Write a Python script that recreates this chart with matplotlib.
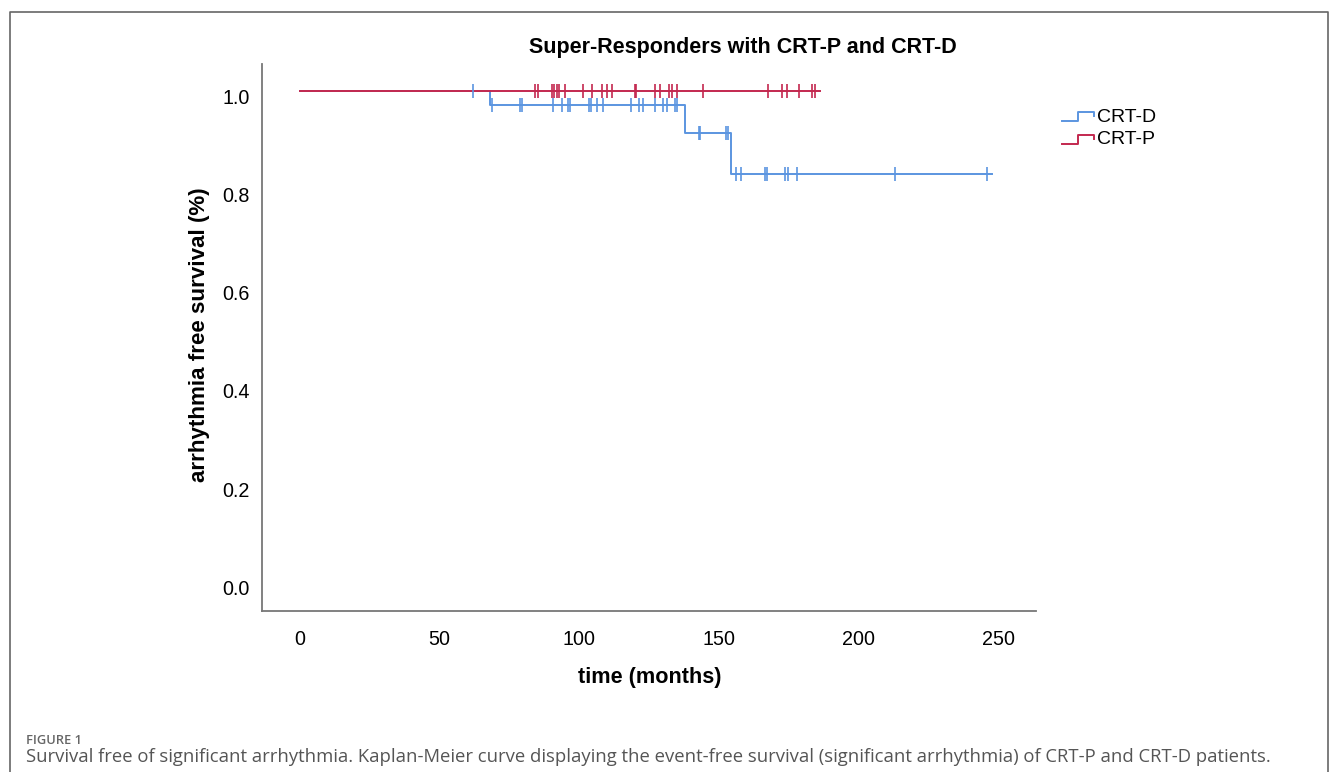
import matplotlib
matplotlib.use("Agg")
import matplotlib.pyplot as plt
from matplotlib.lines import Line2D
from matplotlib import transforms

plt.rcParams["font.family"] = ["Liberation Sans", "DejaVu Sans"]

# Kaplan-Meier steps (time in months, survival fraction)
crtd_step_times = [0, 68.1, 137.9, 154.2]
crtd_step_surv = [1.0, 0.972, 0.915, 0.832]
crtd_end = 247.7
crtd_censor = [62.1, 68.7, 78.8, 79.4, 90.7, 93.7, 95.9, 96.7, 103.5, 104.1,
               106.3, 108.6, 118.4, 121.4, 123.0, 127.1, 129.9, 131.3, 134.3,
               135.1, 143.0, 143.3, 152.6, 153.4, 156.0, 157.8, 166.5, 167.3,
               173.7, 174.9, 178.1, 213.1, 245.9]

crtp_step_times = [0]
crtp_step_surv = [1.0]
crtp_end = 186.2
crtp_censor = [84.2, 85.1, 90.4, 91.1, 91.9, 92.9, 94.9, 101.3, 104.5, 108.3,
               109.8, 111.8, 120.1, 120.5, 127.0, 128.9, 132.3, 133.1, 134.9,
               144.4, 167.5, 172.5, 174.3, 178.8, 183.3, 184.5]

x_ticks = [0, 50, 100, 150, 200, 250]
y_ticks = [0.0, 0.2, 0.4, 0.6, 0.8, 1.0]

blue = "#5b95e0"
red = "#c3284f"


def surv_at(t, times, surv):
    s = surv[0]
    for ti, si in zip(times, surv):
        if t >= ti:
            s = si
    return s


def km_line(ax, times, surv, end, color):
    xs = list(times) + [end]
    ys = list(surv) + [surv[-1]]
    ax.step(xs, ys, where="post", color=color, lw=1.4, zorder=2)


def km_censor(ax, censor, times, surv, color):
    ys = [surv_at(c, times, surv) for c in censor]
    ax.plot(censor, ys, ls="none", marker="|", ms=10, mew=1.2,
            color=color, zorder=4)


W, H = 1335, 772
fig = plt.figure(figsize=(W / 100, H / 100), dpi=100)
ax = fig.add_axes([262 / W, 1 - 611 / H, (1036 - 262) / W, (611 - 64) / H])

km_line(ax, crtd_step_times, crtd_step_surv, crtd_end, blue)
km_line(ax, crtp_step_times, crtp_step_surv, crtp_end, red)
km_censor(ax, crtp_censor, crtp_step_times, crtp_step_surv, red)
km_censor(ax, crtd_censor, crtd_step_times, crtd_step_surv, blue)

ax.set_xlim(-13.6, 263.6)
ax.set_ylim(-0.058, 1.055)
ax.set_xticks(x_ticks)
ax.set_yticks(y_ticks)
ax.set_yticklabels(["%.1f" % v for v in y_ticks])
ax.tick_params(length=0, labelsize=14.2, pad=9)
ax.tick_params(axis="x", pad=14)
for lab in ax.get_yticklabels():
    lab.set_transform(lab.get_transform() +
                      transforms.ScaledTranslation(0, -5 / 100, fig.dpi_scale_trans))
for s in ["top", "right"]:
    ax.spines[s].set_visible(False)
for s in ["left", "bottom"]:
    ax.spines[s].set_color("#777777")
    ax.spines[s].set_linewidth(1.3)

fig.text(743 / W, 1 - 53.3 / H, "Super-Responders with CRT-P and CRT-D",
         ha="center", va="baseline", fontsize=15.5, fontweight="bold")
fig.text(650 / W, 1 - 677 / H, "time (months)", ha="center", va="center",
         fontsize=15.6, fontweight="bold")
fig.text(199 / W, 1 - 335 / H, "arrhythmia free survival (%)", ha="center",
         va="center", rotation=90, fontsize=16.1, fontweight="bold")

# legend with step glyphs
for i, (name, col) in enumerate([("CRT-D", blue), ("CRT-P", red)]):
    y0 = 121 + i * 23
    gx = [1062, 1078, 1078, 1094, 1094]
    gy = [y0, y0, y0 - 9, y0 - 9, y0 - 5]
    fig.add_artist(Line2D([x / W for x in gx], [1 - y / H for y in gy],
                          color=col, lw=1.4))
    fig.text(1097 / W, 1 - (y0 - 4) / H, name, ha="left", va="center",
             fontsize=14)

# outer frame (no bottom edge)
fx = [10 / W, 10 / W, 1328 / W, 1328 / W]
fy = [0, 1 - 11.5 / H, 1 - 11.5 / H, 0]
fig.add_artist(Line2D(fx, fy, color="#666666", lw=1.2))

fig.text(26 / W, 1 - 741 / H, "FIGURE 1", ha="left", va="center",
         fontsize=9.3, color="#666666", family="Open Sans", fontweight="semibold")
fig.text(26 / W, 1 - 757 / H,
         "Survival free of significant arrhythmia. Kaplan-Meier curve displaying "
         "the event-free survival (significant arrhythmia) of CRT-P and CRT-D patients.",
         ha="left", va="center", fontsize=13.3, color="#555555", family="Open Sans")

fig.savefig("out.png", dpi=100)
